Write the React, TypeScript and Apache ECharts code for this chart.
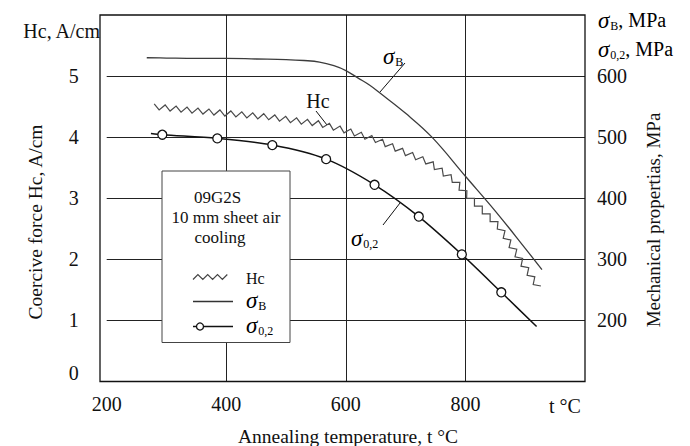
import React, { useEffect, useRef } from "react";
import * as echarts from "echarts";

// ---- data ----
const xTicks = [200, 400, 600, 800];
const hcTicks = [1, 2, 3, 4, 5];
const mpaTicks = [200, 300, 400, 500, 600];

// sigma_B (MPa) vs annealing temperature
const sigmaBT = [267, 300, 350, 400, 450, 500, 530, 556, 580, 600, 620, 640, 656, 700, 744, 800, 850, 900, 928];
const sigmaBV = [630, 629.5, 629, 629, 628, 627, 625.5, 623, 617, 609, 597, 585, 573, 539, 500, 436, 379, 318, 283];

// sigma_0,2 (MPa) vs annealing temperature (first and last points are line ends, not markers)
const sigma02T = [274, 293, 385, 477, 567, 648, 722, 794, 860, 919];
const sigma02V = [506, 504, 498, 487, 464, 422, 370, 308, 246, 190];
const sigma02Marked = [false, true, true, true, true, true, true, true, true, false];

// Hc (A/cm) vs annealing temperature (drawn with a zig-zag line style)
const hcT = [279, 320, 400, 472, 556, 600, 656, 694, 739, 783, 800, 856, 891, 927];
const hcV = [4.5, 4.46, 4.39, 4.33, 4.22, 4.11, 3.94, 3.77, 3.59, 3.28, 3.08, 2.54, 2.0, 1.47];

const FONT = "Liberation Serif";

function zigzag(pts: number[][], step: number, amp: number) {
  const seg: number[] = [];
  let total = 0;
  for (let i = 0; i < pts.length - 1; i++) {
    const l = Math.hypot(pts[i + 1][0] - pts[i][0], pts[i + 1][1] - pts[i][1]);
    seg.push(l);
    total += l;
  }
  const out: number[][] = [];
  let k = 0;
  for (let s = 0; s <= total + 0.001; s += step, k++) {
    let acc = 0;
    let i = 0;
    while (i < seg.length - 1 && acc + seg[i] < s) {
      acc += seg[i];
      i++;
    }
    const L = seg[i] || 1;
    const t = Math.min(1, (s - acc) / L);
    const [x0, y0] = pts[i];
    const [x1, y1] = pts[i + 1];
    const x = x0 + (x1 - x0) * t;
    const y = y0 + (y1 - y0) * t;
    const nx = -(y1 - y0) / L;
    const ny = (x1 - x0) / L;
    const o = k % 2 === 0 ? -amp : amp;
    out.push([x + nx * o, y + ny * o]);
  }
  return out;
}

function legendZigzag(x0: number, x1: number, y: number, step: number, amp: number) {
  const out: number[][] = [];
  let k = 0;
  for (let x = x0; x <= x1 + 0.01; x += step, k++) out.push([x, y + (k % 2 === 0 ? amp : -amp)]);
  return out;
}

const sigRich = {
  s: { fontFamily: FONT, fontSize: 23, fontStyle: "italic", color: "#111" },
  b: { fontFamily: FONT, fontSize: 12, color: "#111", verticalAlign: "bottom", padding: [8, 0, 0, 1] },
  t: { fontFamily: FONT, fontSize: 20, color: "#111" },
};

export default function App() {
  const ref = useRef<HTMLDivElement>(null);
  useEffect(() => {
    if (!ref.current) return;
    const chart = echarts.init(ref.current, undefined, { renderer: "svg" });
    const labelStyle = { fontFamily: FONT, fontSize: 20, color: "#111" };
    const option: any = {
      animation: false,
      textStyle: { fontFamily: FONT },
      grid: { left: 106.7, right: 105, top: 15, bottom: 64.5 },
      xAxis: {
        type: "value",
        min: 200,
        max: 1000,
        interval: 200,
        axisLine: { show: false },
        axisTick: { show: false },
        splitLine: { show: true, showMinLine: false, showMaxLine: false, lineStyle: { color: "#222", width: 1 } },
        axisLabel: {
          ...labelStyle,
          margin: 12,
          formatter: (v: number) => (xTicks.includes(v) ? String(v) : ""),
        },
      },
      yAxis: [
        {
          type: "value",
          min: 0,
          max: 6,
          interval: 1,
          axisLine: { show: false },
          axisTick: { show: false },
          splitLine: { show: true, showMinLine: false, showMaxLine: false, lineStyle: { color: "#222", width: 1 } },
          axisLabel: {
            ...labelStyle,
            margin: 28,
            formatter: (v: number) => (v === 0 ? "{z|0}" : hcTicks.includes(v) ? String(v) : ""),
            rich: { z: { fontFamily: FONT, fontSize: 20, color: "#111", padding: [0, 0, 18, 0] } },
          },
        },
        {
          type: "value",
          position: "right",
          min: 100,
          max: 700,
          interval: 100,
          axisLine: { show: false },
          axisTick: { show: false },
          splitLine: { show: false },
          axisLabel: {
            ...labelStyle,
            margin: 12,
            formatter: (v: number) => (mpaTicks.includes(v) ? String(v) : ""),
          },
        },
      ],
      series: [
        {
          type: "line",
          name: "sigmaB",
          yAxisIndex: 1,
          smooth: 0.4,
          symbol: "none",
          lineStyle: { color: "#3c3c3c", width: 1.3 },
          data: sigmaBT.map((t, i) => [t, sigmaBV[i]]),
          z: 3,
        },
        {
          type: "line",
          name: "sigma02",
          yAxisIndex: 1,
          smooth: 0.3,
          symbol: "circle",
          symbolSize: 9,
          itemStyle: { color: "#fff", borderColor: "#111", borderWidth: 1.3 },
          lineStyle: { color: "#111", width: 1.5 },
          data: sigma02T.map((t, i) => ({
            value: [t, sigma02V[i]],
            symbol: sigma02Marked[i] ? "circle" : "none",
          })),
          z: 4,
        },
        {
          type: "custom",
          name: "Hc",
          yAxisIndex: 0,
          encode: { x: 0, y: 1 },
          data: hcT.map((t, i) => [t, hcV[i]]),
          renderItem: (params: any, api: any) => {
            if (params.dataIndex !== 0) return null;
            const pts = hcT.map((t, i) => api.coord([t, hcV[i]]));
            return {
              type: "polyline",
              shape: { points: zigzag(pts, 5.5, 2.8) },
              style: { stroke: "#4a4a4a", lineWidth: 1.2, fill: null },
            };
          },
          z: 3,
        },
      ],
      graphic: [
        // plot frame
        {
          type: "rect",
          shape: { x: 100, y: 15, width: 485, height: 366.5 },
          style: { fill: null, stroke: "#111", lineWidth: 1.3 },
          z: 50,
        },
        // axis captions
        { type: "text", x: 100, y: 31, style: { text: "Hc, A/cm", font: `20px '${FONT}'`, fill: "#111", align: "right", verticalAlign: "middle" } },
        {
          type: "text",
          x: 598,
          y: 20,
          style: { text: "{s|σ}{b|B}{t|, MPa}", rich: sigRich, verticalAlign: "middle", align: "left" },
        },
        {
          type: "text",
          x: 598,
          y: 49,
          style: { text: "{s|σ}{b|0,2}{t|, MPa}", rich: sigRich, verticalAlign: "middle", align: "left" },
        },
        {
          type: "text",
          x: 35,
          y: 222,
          rotation: Math.PI / 2,
          style: { text: "Coercive force Hc, A/cm", font: `19.5px '${FONT}'`, fill: "#111", align: "center", verticalAlign: "middle" },
        },
        {
          type: "text",
          x: 653,
          y: 220,
          rotation: Math.PI / 2,
          style: { text: "Mechanical propertias, MPa", font: `19px '${FONT}'`, fill: "#111", align: "center", verticalAlign: "middle" },
        },
        { type: "text", x: 348, y: 436, style: { text: "Annealing temperature, t °C", font: `19.5px '${FONT}'`, fill: "#111", align: "center", verticalAlign: "middle" } },
        { type: "text", x: 565, y: 406, style: { text: "t °C", font: `20px '${FONT}'`, fill: "#111", align: "center", verticalAlign: "middle" } },
        // curve annotations
        { type: "text", x: 383, y: 56, style: { text: "{s|σ}{b|B}", rich: sigRich, verticalAlign: "middle", align: "left" } },
        { type: "line", shape: { x1: 405, y1: 63, x2: 380, y2: 92 }, style: { stroke: "#111", lineWidth: 1 } },
        { type: "text", x: 318, y: 101, style: { text: "Hc", font: `20px '${FONT}'`, fill: "#111", align: "center", verticalAlign: "middle" } },
        { type: "line", shape: { x1: 316, y1: 111, x2: 327, y2: 125 }, style: { stroke: "#111", lineWidth: 1 } },
        { type: "text", x: 351, y: 238, style: { text: "{s|σ}{b|0,2}", rich: sigRich, verticalAlign: "middle", align: "left" } },
        { type: "line", shape: { x1: 400, y1: 203, x2: 383, y2: 225 }, style: { stroke: "#111", lineWidth: 1 } },
        // legend box
        {
          type: "rect",
          shape: { x: 162, y: 171, width: 128, height: 171.5 },
          style: { fill: "#fff", stroke: "#444", lineWidth: 1 },
          z: 60,
        },
        { type: "text", x: 217.5, y: 197, z: 61, style: { text: "09G2S", font: `17px '${FONT}'`, fill: "#111", align: "center", verticalAlign: "middle" } },
        { type: "text", x: 226, y: 217, z: 61, style: { text: "10 mm sheet air", font: `17px '${FONT}'`, fill: "#111", align: "center", verticalAlign: "middle" } },
        { type: "text", x: 220, y: 237, z: 61, style: { text: "cooling", font: `17px '${FONT}'`, fill: "#111", align: "center", verticalAlign: "middle" } },
        {
          type: "polyline",
          z: 61,
          shape: { points: legendZigzag(193, 232, 277, 4.9, 2.5) },
          style: { stroke: "#444", lineWidth: 1.2, fill: null },
        },
        { type: "text", x: 246, y: 278, z: 61, style: { text: "Hc", font: `16px '${FONT}'`, fill: "#111", align: "left", verticalAlign: "middle" } },
        { type: "line", z: 61, shape: { x1: 193, y1: 301.5, x2: 233, y2: 301.5 }, style: { stroke: "#333", lineWidth: 1.3 } },
        { type: "text", x: 246, y: 300, z: 61, style: { text: "{s|σ}{b|B}", rich: sigRich, verticalAlign: "middle", align: "left" } },
        { type: "line", z: 61, shape: { x1: 193, y1: 326.5, x2: 233, y2: 326.5 }, style: { stroke: "#111", lineWidth: 1.5 } },
        { type: "circle", z: 62, shape: { cx: 200, cy: 326.5, r: 3.5 }, style: { fill: "#fff", stroke: "#111", lineWidth: 1.3 } },
        { type: "text", x: 246, y: 325, z: 61, style: { text: "{s|σ}{b|0,2}", rich: sigRich, verticalAlign: "middle", align: "left" } },
      ],
    };
    chart.setOption(option);
    return () => chart.dispose();
  }, []);
  return <div ref={ref} style={{ position: "fixed", left: 0, top: 0, width: 690, height: 446, background: "#fff" }} />;
}
